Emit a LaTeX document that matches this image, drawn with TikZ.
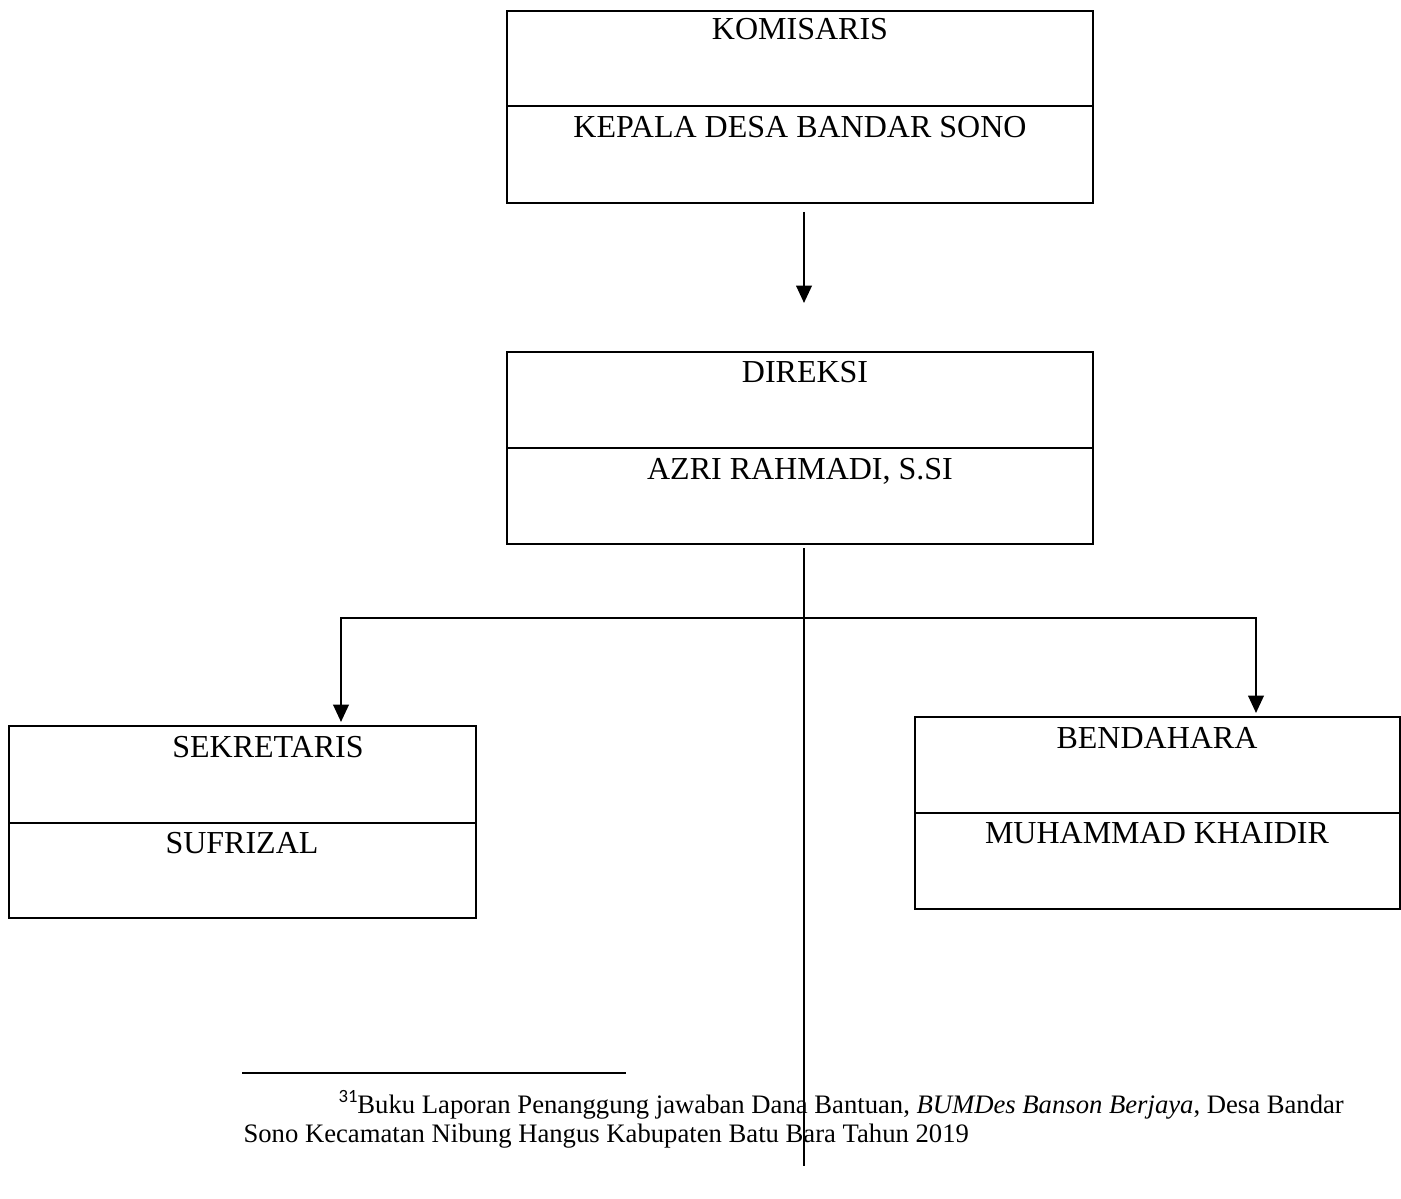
\documentclass[tikz,border=0pt]{standalone}
\usepackage{fontspec}
\setmainfont{Liberation Serif}
\newfontfamily\carlito{Carlito}
\usetikzlibrary{arrows.meta}
\begin{document}
\begin{tikzpicture}[x=0.375pt,y=-0.375pt,
  box/.style={draw, line width=0.85pt, inner sep=0pt, outer sep=0pt, anchor=north west},
  lbl/.style={anchor=base, inner sep=0pt, font=\fontsize{12}{14}\selectfont},
  conn/.style={line width=0.85pt},
  arr/.style={conn, -{Triangle[length=6.5pt,width=5.8pt]}},
  foot/.style={anchor=base west, inner sep=0pt, font=\fontsize{10}{12}\selectfont}]
\path[use as bounding box] (0,0) rectangle (1401,1198);

% boxes
\node[box, minimum width=586*0.375pt, minimum height=192*0.375pt] (kom) at (507,11) {};
\draw[conn] (507,106) -- (1093,106);
\node[lbl] (komt) at (800,40) {KOMISARIS};
\node[lbl] (komn) at (800,138) {KEPALA DESA BANDAR SONO};

\node[box, minimum width=586*0.375pt, minimum height=192*0.375pt] (dir) at (507,352) {};
\draw[conn] (507,448) -- (1093,448);
\node[lbl] (dirt) at (805,382) {DIREKSI};
\node[lbl] (dirn) at (800,479) {AZRI RAHMADI, S.SI};

\node[box, minimum width=467*0.375pt, minimum height=192*0.375pt] (sek) at (9,726) {};
\draw[conn] (9,823) -- (476,823);
\node[lbl] (sekt) at (268,757) {SEKRETARIS};
\node[lbl] (sekn) at (242,853) {SUFRIZAL};

\node[box, minimum width=485*0.375pt, minimum height=192*0.375pt] (ben) at (915,717) {};
\draw[conn] (915,813) -- (1400,813);
\node[lbl] (bent) at (1157,748) {BENDAHARA};
\node[lbl] (benn) at (1157,843) {MUHAMMAD KHAIDIR};

% connectors
\coordinate (a1) at (804,212);
\coordinate (a2) at (804,303);
\draw[arr] (a1) -- (a2);

\coordinate (v1) at (804,548);
\coordinate (v2) at (804,1166);
\draw[conn] (v1) -- (v2);

\coordinate (hm) at (804,618);
\coordinate (lt) at (341,722);
\coordinate (rt) at (1256,713);
\draw[conn, {Triangle[length=6.5pt,width=5.8pt]}-{Triangle[length=6.5pt,width=5.8pt]}] (lt) |- (hm) -| (rt);

% footnote
\coordinate (f1) at (242,1073);
\coordinate (f2) at (626,1073);
\draw[line width=0.7pt] (f1) -- (f2);
\node[foot] (fn1) at (338,1113) {\raisebox{4.1pt}{\carlito\fontsize{7}{8}\selectfont 31}Buku Laporan Penanggung jawaban Dana Bantuan, \textit{BUMDes Banson Berjaya}, Desa Bandar};
\node[foot] (fn2) at (243,1142) {Sono Kecamatan Nibung Hangus Kabupaten Batu Bara Tahun 2019};
\end{tikzpicture}
\end{document}
